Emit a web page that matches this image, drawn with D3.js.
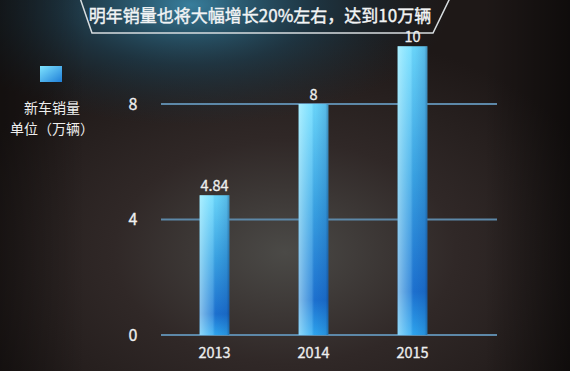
<!DOCTYPE html>
<html>
<head>
<meta charset="utf-8">
<script src="https://cdn.jsdelivr.net/npm/d3@7"></script>
<style>
  body { margin: 0; background: #221c1b; }
  svg { display: block; }
  text { font-family: "Noto Sans CJK SC", "Open Sans", sans-serif; }
</style>
</head>
<body>
<script>
const years = ['2013', '2014', '2015'];
const sales = [4.84, 8, 10];
const valueLabels = ['4.84', '8', '10'];
const yTicks = [0, 4, 8];
const title = '明年销量也将大幅增长20%左右，达到10万辆';
const legendLines = ['新车销量', '单位（万辆）'];

const width = 570;
const height = 371;
const margin = { left: 161, right: 73, top: 45, bottom: 36 };

const svg = d3.select('body').append('svg')
  .attr('width', width)
  .attr('height', height);

const defs = svg.append('defs');

// background glows
const bgGlow = defs.append('radialGradient').attr('id', 'bgGlow')
  .attr('cx', '0.5').attr('cy', '0.68').attr('r', '0.6');
bgGlow.append('stop').attr('offset', '0').attr('stop-color', '#4b4a47');
bgGlow.append('stop').attr('offset', '0.5').attr('stop-color', '#302827');
bgGlow.append('stop').attr('offset', '1').attr('stop-color', '#1e1817');

const blueGlow = defs.append('radialGradient').attr('id', 'blueGlow')
  .attr('cx', '0.5').attr('cy', '0.5').attr('r', '0.5');
blueGlow.append('stop').attr('offset', '0').attr('stop-color', '#3c90b4').attr('stop-opacity', 0.85);
blueGlow.append('stop').attr('offset', '0.5').attr('stop-color', '#1d4d66').attr('stop-opacity', 0.5);
blueGlow.append('stop').attr('offset', '1').attr('stop-color', '#14303f').attr('stop-opacity', 0);

const edgeShade = defs.append('linearGradient').attr('id', 'edgeShade');
edgeShade.append('stop').attr('offset', '0').attr('stop-color', '#000').attr('stop-opacity', 0.35);
edgeShade.append('stop').attr('offset', '0.15').attr('stop-color', '#000').attr('stop-opacity', 0);
edgeShade.append('stop').attr('offset', '0.85').attr('stop-color', '#000').attr('stop-opacity', 0);
edgeShade.append('stop').attr('offset', '1').attr('stop-color', '#000').attr('stop-opacity', 0.5);

// bar gradients
const barV = defs.append('linearGradient').attr('id', 'barV')
  .attr('x1', 0).attr('y1', 0).attr('x2', 0).attr('y2', 1);
barV.append('stop').attr('offset', '0').attr('stop-color', '#6edcff');
barV.append('stop').attr('offset', '0.45').attr('stop-color', '#3ba6e6');
barV.append('stop').attr('offset', '0.85').attr('stop-color', '#1d72d2');
barV.append('stop').attr('offset', '1').attr('stop-color', '#2fa8f2');

const barH = defs.append('linearGradient').attr('id', 'barH')
  .attr('x1', 0).attr('y1', 0).attr('x2', 1).attr('y2', 0);
barH.append('stop').attr('offset', '0').attr('stop-color', '#dfffff').attr('stop-opacity', 0.55);
barH.append('stop').attr('offset', '0.45').attr('stop-color', '#bff4ff').attr('stop-opacity', 0.2);
barH.append('stop').attr('offset', '0.55').attr('stop-color', '#0b3f8a').attr('stop-opacity', 0.05);
barH.append('stop').attr('offset', '0.9').attr('stop-color', '#0b3f8a').attr('stop-opacity', 0.2);
barH.append('stop').attr('offset', '1').attr('stop-color', '#0a2a5a').attr('stop-opacity', 0.45);

svg.append('rect').attr('width', width).attr('height', height).attr('fill', 'url(#bgGlow)');
svg.append('ellipse').attr('cx', 190).attr('cy', 5).attr('rx', 260).attr('ry', 120)
  .attr('fill', 'url(#blueGlow)');
svg.append('rect').attr('width', width).attr('height', height).attr('fill', 'url(#edgeShade)');

// title banner
svg.append('path')
  .attr('d', 'M80,-2 L92,33 L433,33 L450,-2')
  .attr('fill', 'none')
  .attr('stroke', '#d8dde0')
  .attr('stroke-width', 1.5);
svg.append('text')
  .attr('x', 260).attr('y', 22)
  .attr('text-anchor', 'middle')
  .attr('fill', '#f2f4f5')
  .attr('stroke', '#f2f4f5')
  .attr('stroke-width', 0.4)
  .attr('font-size', 17)
  .text(title);

const xScale = d3.scaleBand()
  .domain(years)
  .range([165, 462])
  .paddingInner(0.7)
  .paddingOuter(0.35);

const yScale = d3.scaleLinear()
  .domain([0, 8])
  .range([height - margin.bottom, 104]);

// gridlines
svg.append('g').selectAll('line')
  .data(yTicks)
  .enter()
  .append('line')
  .attr('x1', margin.left)
  .attr('x2', width - margin.right)
  .attr('y1', d => yScale(d))
  .attr('y2', d => yScale(d))
  .attr('stroke', '#5d88a8')
  .attr('stroke-width', 1.8);

// y axis labels
const yAxis = d3.axisLeft(yScale).tickValues(yTicks).tickSize(0).tickPadding(0);
svg.append('g')
  .attr('transform', 'translate(133, 0)')
  .call(yAxis)
  .call(g => g.select('.domain').remove())
  .call(g => g.selectAll('text')
    .attr('fill', '#f0f0f0')
    .attr('stroke', '#f0f0f0')
    .attr('stroke-width', 0.3)
    .attr('font-size', 16)
    .attr('text-anchor', 'middle')
    .attr('font-family', '"Open Sans", sans-serif'));

// bars
const bars = svg.append('g').selectAll('g')
  .data(sales)
  .enter()
  .append('g');

bars.append('rect')
  .attr('x', (d, i) => xScale(years[i]))
  .attr('y', d => yScale(d))
  .attr('width', xScale.bandwidth())
  .attr('height', d => yScale(0) - yScale(d))
  .attr('fill', 'url(#barV)');

bars.append('rect')
  .attr('x', (d, i) => xScale(years[i]))
  .attr('y', d => yScale(d))
  .attr('width', xScale.bandwidth())
  .attr('height', d => yScale(0) - yScale(d))
  .attr('fill', 'url(#barH)');

bars.append('text')
  .attr('x', (d, i) => xScale(years[i]) + xScale.bandwidth() / 2)
  .attr('y', d => yScale(d) - 4)
  .attr('text-anchor', 'middle')
  .attr('fill', '#eeeeee')
  .attr('stroke', '#eeeeee')
  .attr('stroke-width', 0.3)
  .attr('font-size', 14.5)
  .attr('font-family', '"Open Sans", sans-serif')
  .text((d, i) => valueLabels[i]);

// x axis labels
const xAxis = d3.axisBottom(xScale).tickSize(0).tickPadding(0);
svg.append('g')
  .attr('transform', `translate(0, ${yScale(0) + 23})`)
  .call(xAxis)
  .call(g => g.select('.domain').remove())
  .call(g => g.selectAll('text')
    .attr('fill', '#eeeeee')
    .attr('stroke', '#eeeeee')
    .attr('stroke-width', 0.3)
    .attr('font-size', 14.5)
    .attr('dy', '0')
    .attr('font-family', '"Open Sans", sans-serif'));

// legend
const legGrad = defs.append('linearGradient').attr('id', 'legGrad')
  .attr('x1', 0).attr('y1', 0).attr('x2', 1).attr('y2', 1);
legGrad.append('stop').attr('offset', '0').attr('stop-color', '#7fe4ff');
legGrad.append('stop').attr('offset', '1').attr('stop-color', '#1f7fd8');

svg.append('rect')
  .attr('x', 40).attr('y', 66).attr('width', 22).attr('height', 16)
  .attr('fill', 'url(#legGrad)');

svg.append('g').selectAll('text')
  .data(legendLines)
  .enter()
  .append('text')
  .attr('x', 52)
  .attr('y', (d, i) => 113 + i * 21)
  .attr('text-anchor', 'middle')
  .attr('fill', '#eeeeee')
  .attr('font-size', 14)
  .text(d => d);
</script>
</body>
</html>
